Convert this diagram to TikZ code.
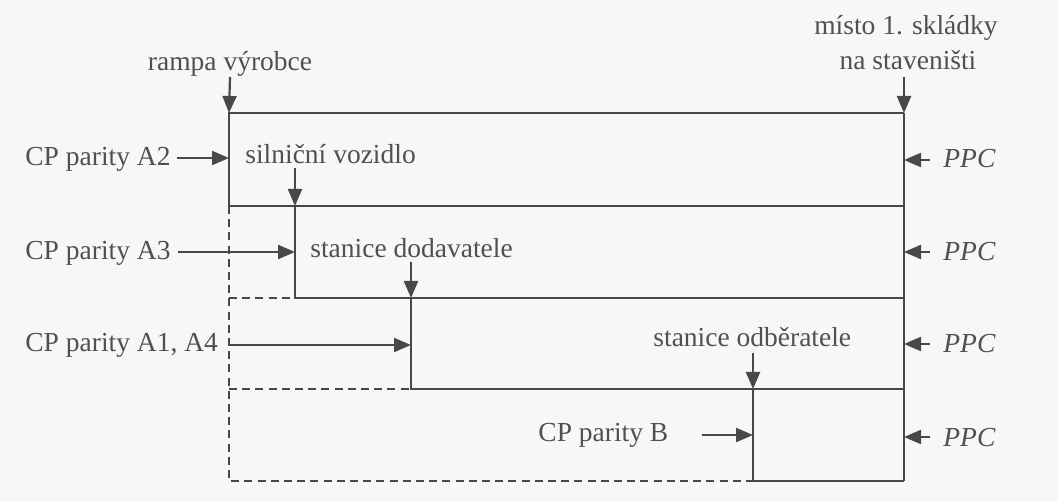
\documentclass[tikz,border=0pt]{standalone}
\usepackage{fontspec}
\setmainfont{Liberation Serif}
\usetikzlibrary{arrows.meta}
\definecolor{ink}{RGB}{72,72,72}
\definecolor{txt}{RGB}{80,80,80}
\definecolor{paper}{RGB}{247,247,247}
\tikzset{
  lbl/.style={inner sep=0pt, text=txt, font=\fontsize{13.75pt}{16pt}\selectfont},
  ppc/.style={lbl, font=\fontsize{13.75pt}{16pt}\selectfont\itshape},
  solidline/.style={draw=ink, line width=1.1pt},
  dashline/.style={draw=ink, line width=1.1pt, dash pattern=on 4pt off 2.6pt},
  arr/.style={draw=ink, line width=1.1pt, -{Triangle[length=8.5pt,width=7pt]}}
}
\begin{document}
\begin{tikzpicture}[x=0.5pt,y=-0.5pt]
\fill[paper] (0,0) rectangle (1058,501);
\useasboundingbox (0,0) rectangle (1058,501);
% grid coordinates
\coordinate (L0) at (229,113); \coordinate (R0) at (904,113);
\coordinate (L1) at (229,206); \coordinate (R1) at (904,206);
\coordinate (L2) at (229,298); \coordinate (S1a) at (295,206); \coordinate (S1b) at (295,298); \coordinate (R2) at (904,298);
\coordinate (L3) at (229,389); \coordinate (S2a) at (411,298); \coordinate (S2b) at (411,389); \coordinate (R3) at (904,389);
\coordinate (L4) at (229,481); \coordinate (S3a) at (753,389); \coordinate (S3b) at (753,481); \coordinate (R4) at (904,481);
% frame lines
\draw[solidline] (R0) -- (L0) -- (L1) -- (R1);
\draw[solidline] (S1a) -- (S1b) -- (R2);
\draw[solidline] (S2a) -- (S2b) -- (R3);
\draw[solidline] (S3a) -- (S3b) -- (R4);
\draw[solidline] (R0) -- (R4);
\draw[dashline] (L1) -- (L4) -- (S3b);
\draw[dashline] (L2) -- (S1b);
\draw[dashline] (L3) -- (S2b);
% labels
\node[lbl, anchor=base] (ramp) at (230,71) {rampa výrobce};
\node[lbl, anchor=base] (misto1) at (906,35) {místo 1. skládky};
\node[lbl, anchor=base] (misto2) at (908,70) {na staveništi};
\node[lbl, anchor=base west] (cpa2) at (25,166) {CP parity A2};
\node[lbl, anchor=base west] (silv) at (245,164) {silniční vozidlo};
\node[lbl, anchor=base west] (cpa3) at (25,260) {CP parity A3};
\node[lbl, anchor=base west] (stdod) at (310,258) {stanice dodavatele};
\node[lbl, anchor=base west] (cpa14) at (25,352) {CP parity A1, A4};
\node[lbl, anchor=base west] (stodb) at (653,347) {stanice odběratele};
\node[lbl, anchor=base west] (cpb) at (538,441) {CP parity B};
\node[ppc, anchor=base west] (ppc1) at (943,168) {PPC};
\node[ppc, anchor=base west] (ppc2) at (943,261) {PPC};
\node[ppc, anchor=base west] (ppc3) at (943,353) {PPC};
\node[ppc, anchor=base west] (ppc4) at (943,446) {PPC};
% arrows
\coordinate (a1s) at (230,77); \draw[arr] (a1s) -- (L0);
\coordinate (a2s) at (904,77); \draw[arr] (a2s) -- (R0);
\coordinate (a3s) at (177,158); \coordinate (a3e) at (229,158); \draw[arr] (a3s) -- (a3e);
\coordinate (a4s) at (295,168); \draw[arr] (a4s) -- (S1a);
\coordinate (a5s) at (178,252); \coordinate (a5e) at (295,252); \draw[arr] (a5s) -- (a5e);
\coordinate (a6s) at (411,262); \draw[arr] (a6s) -- (S2a);
\coordinate (a7s) at (230,345); \coordinate (a7e) at (411,345); \draw[arr] (a7s) -- (a7e);
\coordinate (a8s) at (753,353); \draw[arr] (a8s) -- (S3a);
\coordinate (a9s) at (702,435); \coordinate (a9e) at (753,435); \draw[arr] (a9s) -- (a9e);
\foreach \yy in {160,252,344,437}{
  \draw[arr] (930,\yy) -- (904,\yy);
}
\end{tikzpicture}
\end{document}
